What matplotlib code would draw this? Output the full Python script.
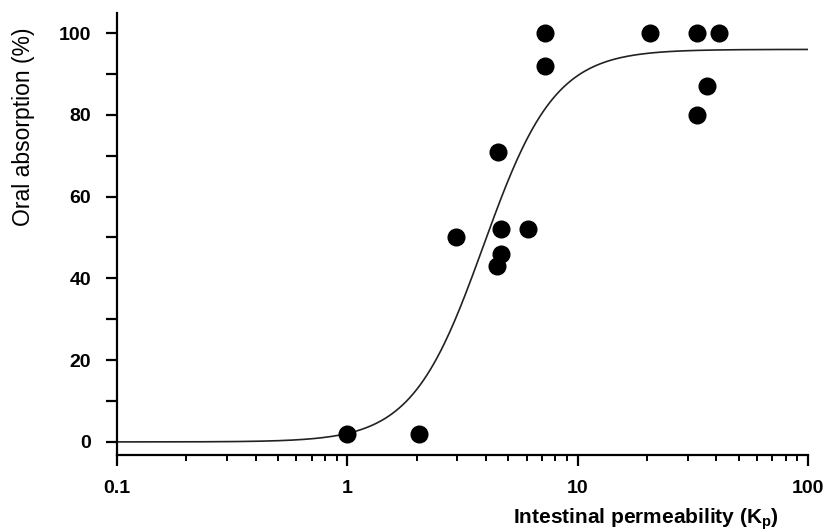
import numpy as np
import matplotlib.pyplot as plt
from matplotlib.ticker import FixedLocator, LogLocator, NullFormatter

plt.rcParams["font.family"] = ["Liberation Sans", "DejaVu Sans"]
plt.rcParams["mathtext.fontset"] = "custom"
plt.rcParams["mathtext.rm"] = "Liberation Sans"

# measured compounds
permeability = [1.0, 2.05, 2.97, 4.51, 4.64, 6.09, 4.64, 4.47, 7.2, 7.2, 20.6, 33.0, 41.1, 36.5, 33.0]
absorption = [2, 2, 50, 71, 52, 52, 46, 43, 100, 92, 100, 100, 100, 87, 80]

# sigmoid fit (Hill form): max absorption, half-max permeability, slope
fit_max = 96.0
fit_k50 = 3.9
fit_slope = 2.8

y_ticks = [0, 20, 40, 60, 80, 100]
x_ticks = [0.1, 1, 10, 100]
x_ticklabels = ["0.1", "1", "10", "100"]


def hill(k):
    return fit_max * k**fit_slope / (k**fit_slope + fit_k50**fit_slope)


fig = plt.figure(figsize=(8.25, 5.31), dpi=100)
fig.patch.set_facecolor("white")
ax = fig.add_axes([0.1418, 0.1431, 0.8376, 0.8324])

k = np.logspace(-1, 2, 400)
ax.plot(k, hill(k), color="#222222", lw=1.2)
ax.plot(permeability, absorption, "o", color="black", markersize=12, zorder=3)

ax.set_xscale("log")
ax.set_xlim(0.1, 100)
ax.set_ylim(-3.2, 104.9)

ax.spines["top"].set_visible(False)
ax.spines["right"].set_visible(False)
for s in ("left", "bottom"):
    ax.spines[s].set_linewidth(1.6)

ax.xaxis.set_major_locator(FixedLocator(x_ticks))
ax.set_xticklabels(x_ticklabels)
ax.xaxis.set_minor_locator(LogLocator(base=10, subs=np.arange(2, 10)))
ax.xaxis.set_minor_formatter(NullFormatter())
ax.yaxis.set_major_locator(FixedLocator(np.arange(0, 101, 10)))
ax.set_yticklabels([str(v) if v in y_ticks else "" for v in range(0, 101, 10)])

ax.tick_params(axis="x", which="major", direction="out", length=8, width=1.6, pad=10)
ax.tick_params(axis="x", which="minor", direction="out", length=4.5, width=1.4)
ax.tick_params(axis="y", which="major", direction="out", length=7.7, width=1.6, pad=11)
for lab in ax.get_xticklabels() + ax.get_yticklabels():
    lab.set_fontsize(14)
    lab.set_fontweight("bold")

fig.text(24 / 825, 1 - 127 / 531, "Oral absorption (%)", rotation=90,
         ha="center", va="center", fontsize=16.5)
fig.text(646 / 825, 1 - 523 / 531, r"Intestinal permeability (K$_\mathregular{p}$)",
         ha="center", va="baseline", fontsize=15, fontweight="bold")

fig.savefig("out.png", dpi=100)
